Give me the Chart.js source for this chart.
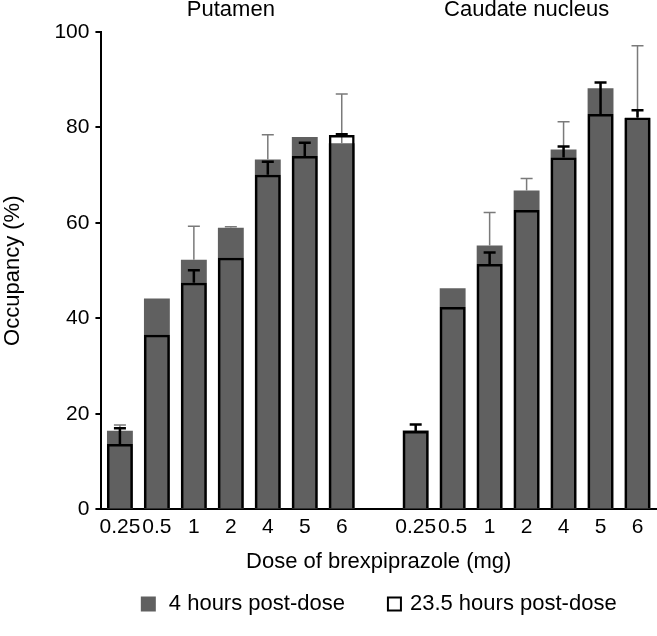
<!DOCTYPE html>
<html>
<head>
<meta charset="utf-8">
<script src="https://cdn.jsdelivr.net/npm/chart.js@4.4.0/dist/chart.umd.min.js"></script>
<style>
  html, body { margin: 0; padding: 0; background: #fff; }
  #wrap { width: 657px; height: 636px; }
</style>
</head>
<body>
<div id="wrap"><canvas id="bar-chart" width="657" height="636"></canvas></div>
<script>
// dose labels, putamen group, empty gap, caudate group
var doses = ['0.25', '0.5', '1', '2', '4', '5', '6', '', '0.25', '0.5', '1', '2', '4', '5', '6'];
var regionTitles = ['Putamen', 'Caudate nucleus'];

// occupancy (%) at 4 hours post-dose
var occ4h = [16.5, 44.2, 52.3, 59.0, 73.3, 78.0, 76.7, null, 16.6, 46.3, 55.3, 66.8, 75.4, 88.2, 82.0];
var sd4h  = [1.2, null, 7.0, 0.2, 5.2, null, 10.3, null, null, null, 6.9, 2.5, 5.8, null, 15.1];

// occupancy (%) at 23.5 hours post-dose
var occ23h = [13.7, 36.6, 47.5, 52.7, 70.1, 74.0, 78.4, null, 16.4, 42.4, 51.4, 62.7, 73.7, 82.8, 82.1];
var sd23h  = [3.3, null, 2.6, null, 2.7, 2.8, 0.2, null, 1.4, null, 2.4, null, 2.3, 6.6, 1.5];

var yTicks = [0, 20, 40, 60, 80, 100];

var FONT = "'Liberation Sans', Arial, sans-serif";
Chart.defaults.font.family = FONT;
Chart.defaults.color = '#000';

function drawErrors(chart, index, values, color, width) {
    var ctx = chart.ctx;
    var yScale = chart.scales.y;
    var meta = chart.getDatasetMeta(index);
    var data = chart.data.datasets[index].data;
    ctx.save();
    ctx.strokeStyle = color;
    ctx.lineWidth = width;
    meta.data.forEach(function (bar, i) {
        if (values[i] == null || data[i] == null) return;
        var top = yScale.getPixelForValue(data[i] + values[i]);
        ctx.beginPath();
        ctx.moveTo(bar.x, bar.y);
        ctx.lineTo(bar.x, top);
        ctx.moveTo(bar.x - 6, top);
        ctx.lineTo(bar.x + 6, top);
        ctx.stroke();
    });
    ctx.restore();
}

// error bars, region titles, legend under the plot
var extras = {
    id: 'extras',
    afterDatasetDraw: function (chart, args) {
        if (args.index === 0) drawErrors(chart, 0, sd4h, '#7a7a7a', 1.5);
        if (args.index === 1) drawErrors(chart, 1, sd23h, '#000', 2.5);
    },
    afterDraw: function (chart) {
        var ctx = chart.ctx;
        var x = chart.scales.x;
        var area = chart.chartArea;
        ctx.save();
        ctx.font = "22px " + FONT;
        ctx.fillStyle = '#000';
        ctx.textAlign = 'center';
        ctx.textBaseline = 'middle';
        ctx.fillText(regionTitles[0], x.getPixelForValue(3), 10);
        ctx.fillText(regionTitles[1], x.getPixelForValue(11), 10);

        // legend
        var ds = chart.data.datasets;
        var t1 = ctx.measureText(ds[0].label).width;
        var t2 = ctx.measureText(ds[1].label).width;
        var total = 15 + 13 + t1 + 42 + 15 + 8 + t2;
        var lx = (area.left + area.right) / 2 - total / 2;
        var ly = 604;
        ctx.textAlign = 'left';
        ctx.fillStyle = ds[0].backgroundColor;
        ctx.fillRect(lx, ly - 7.5, 15, 15);
        ctx.fillStyle = '#000';
        ctx.fillText(ds[0].label, lx + 28, ly);
        lx += 28 + t1 + 42;
        ctx.fillStyle = '#fff';
        ctx.fillRect(lx, ly - 7.5, 15, 15);
        ctx.strokeStyle = '#000';
        ctx.lineWidth = 2;
        ctx.strokeRect(lx + 1, ly - 6.5, 13, 13);
        ctx.fillStyle = '#000';
        ctx.fillText(ds[1].label, lx + 23, ly);
        ctx.restore();
    }
};

var ctx = document.getElementById('bar-chart').getContext('2d');
var chart = new Chart(ctx, {
    type: 'bar',
    data: {
        labels: doses,
        datasets: [
            {
                label: '4 hours post-dose',
                data: occ4h,
                backgroundColor: '#606060',
                borderWidth: 0,
                grouped: false,
                order: 2
            },
            {
                label: '23.5 hours post-dose',
                data: occ23h,
                backgroundColor: 'rgba(255,255,255,0)',
                borderColor: '#000',
                borderWidth: 2.5,
                grouped: false,
                order: 1
            }
        ]
    },
    options: {
        responsive: false,
        animation: false,
        events: [],
        layout: { padding: { top: 32, right: 1, left: 0, bottom: 61 } },
        datasets: {
            bar: { categoryPercentage: 1, barPercentage: 0.7 }
        },
        scales: {
            x: {
                grid: { display: false, drawTicks: false },
                border: { display: true, color: '#000', width: 2 },
                ticks: { font: { size: 21 }, padding: 5, maxRotation: 0, autoSkip: false },
                title: { display: true, text: 'Dose of brexpiprazole (mg)', font: { size: 22 }, padding: { top: 4, bottom: 0 } }
            },
            y: {
                min: 0,
                max: 100,
                afterBuildTicks: function (scale) {
                    scale.ticks = yTicks.map(function (v) { return { value: v }; });
                },
                grid: { drawOnChartArea: false, drawTicks: true, tickLength: 6, color: '#000', lineWidth: 2 },
                border: { display: true, color: '#000', width: 2 },
                ticks: { font: { size: 21 }, padding: 6 },
                title: { display: true, text: 'Occupancy (%)', font: { size: 22 }, padding: { top: 0, bottom: 22 } }
            }
        },
        plugins: {
            legend: { display: false },
            tooltip: { enabled: false }
        }
    },
    plugins: [extras]
});
</script>
</body>
</html>
